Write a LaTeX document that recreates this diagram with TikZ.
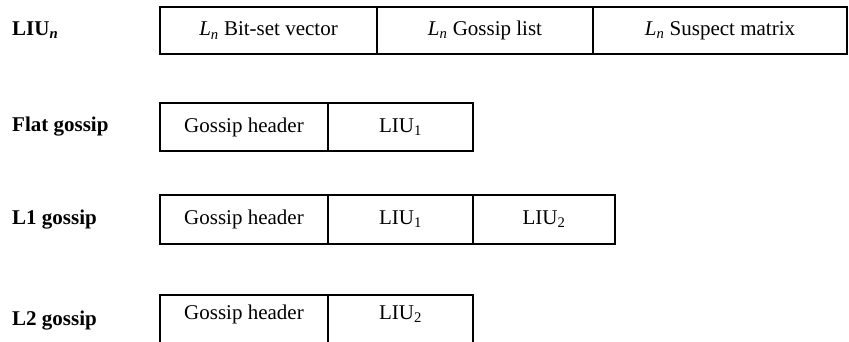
\documentclass[tikz,border=0pt]{standalone}
\usepackage{fontspec}
\setmainfont{Liberation Serif}
\usetikzlibrary{positioning}
\tikzset{
  cell/.style={draw, line width=1.5pt, outer sep=0pt, inner sep=0pt,
    minimum height=48pt, anchor=north west},
  rowname/.style={anchor=west, inner sep=0pt, font=\bfseries}
}
\newcommand{\Ln}{\textit{L}\textsubscript{\textit{n}}}
\newcommand{\lifted}[1]{\raisebox{6.5pt}[\height][\depth]{#1}}
\begin{document}
\begin{tikzpicture}[x=1pt, y=-1pt]
\fontsize{21}{25}\selectfont
\useasboundingbox (0,0) rectangle (849,342);
% LIU_n
\node[rowname] (liuname) at (12,30.5) {LIU\textsubscript{\textit{n}}};
\node[cell, minimum height=47pt, minimum width=217pt] (bitset) at (160,7) {\Ln{} Bit-set vector};
\node[cell, minimum height=47pt, minimum width=216pt, right=0pt of bitset] (glist) {\Ln{} Gossip list};
\node[cell, minimum height=47pt, minimum width=254pt, right=0pt of glist] (smatrix) {\Ln{} Suspect matrix};
% flat gossip
\node[rowname] (flatname) at (12,127) {Flat gossip};
\node[cell, minimum width=168pt] (flathdr) at (160,103) {Gossip header};
\node[cell, minimum width=145pt, right=0pt of flathdr] (flatliu) {LIU\textsubscript{1}};
% L1 gossip
\node[rowname] (lonename) at (12,219.5) {L1 gossip};
\node[cell, minimum height=49pt, minimum width=168pt] (lonehdr) at (160,195) {Gossip header};
\node[cell, minimum height=49pt, minimum width=145pt, right=0pt of lonehdr] (loneliua) {LIU\textsubscript{1}};
\node[cell, minimum height=49pt, minimum width=142pt, right=0pt of loneliua] (loneliub) {LIU\textsubscript{2}};
% L2 gossip (cut at the bottom)
\node[rowname] (ltwoname) at (12,321) {L2 gossip};
\node[cell, minimum height=52pt, minimum width=168pt] (ltwohdr) at (160,295) {\lifted{Gossip header}};
\node[cell, minimum height=52pt, minimum width=145pt, right=0pt of ltwohdr] (ltwoliu) {\lifted{LIU\textsubscript{2}}};
\end{tikzpicture}
\end{document}
